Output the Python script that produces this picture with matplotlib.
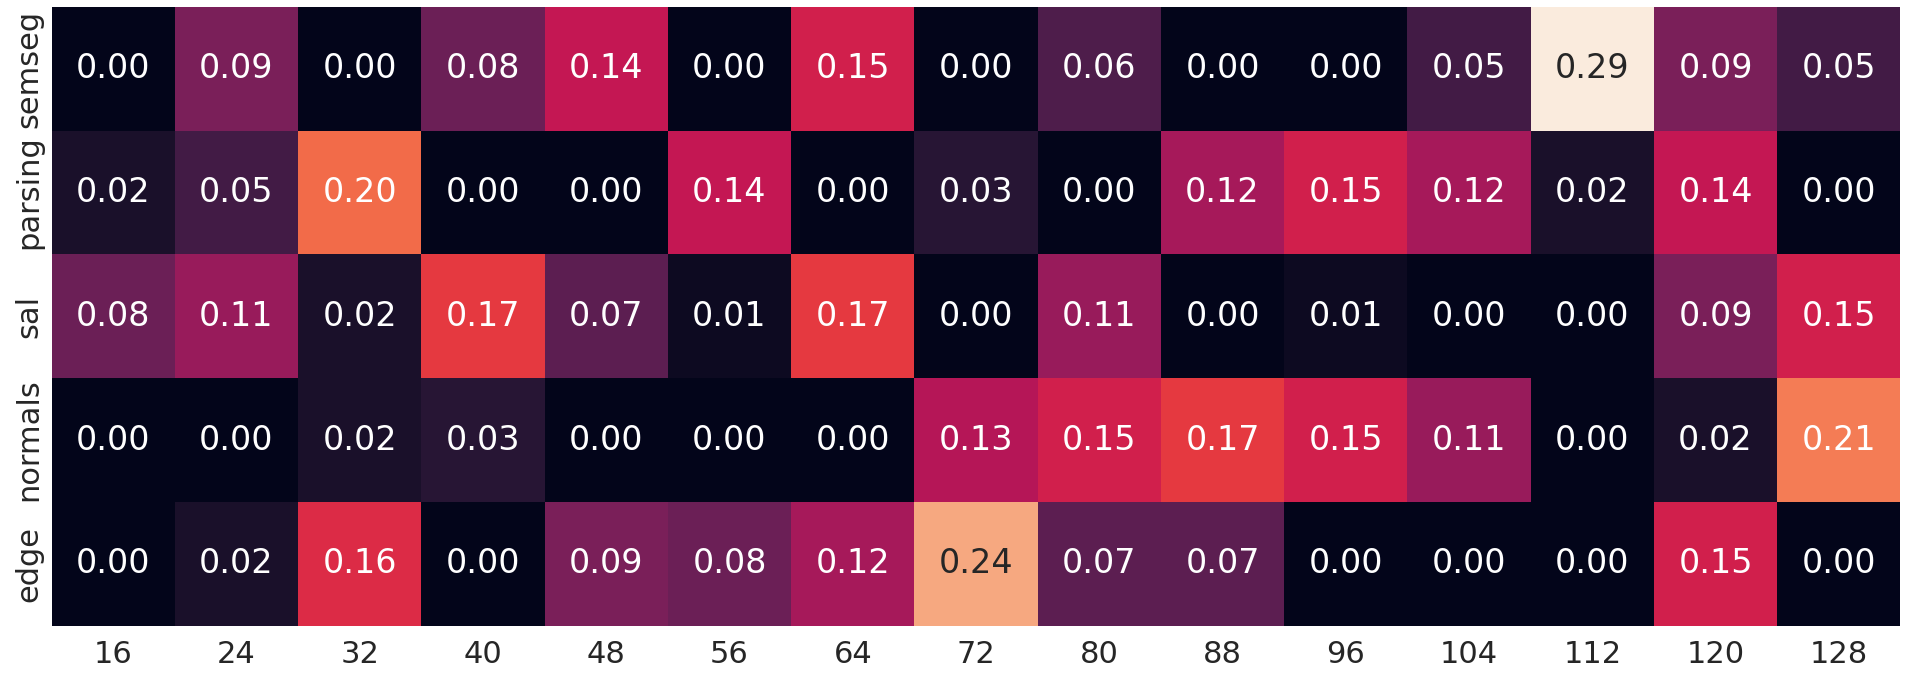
import numpy as np
import seaborn as sns
import matplotlib.pyplot as plt

tasks = ["semseg", "parsing", "sal", "normals", "edge"]
dims = [16, 24, 32, 40, 48, 56, 64, 72, 80, 88, 96, 104, 112, 120, 128]

semseg = [0.00, 0.09, 0.00, 0.08, 0.14, 0.00, 0.15, 0.00, 0.06, 0.00, 0.00, 0.05, 0.29, 0.09, 0.05]
parsing = [0.02, 0.05, 0.20, 0.00, 0.00, 0.14, 0.00, 0.03, 0.00, 0.12, 0.15, 0.12, 0.02, 0.14, 0.00]
sal = [0.08, 0.11, 0.02, 0.17, 0.07, 0.01, 0.17, 0.00, 0.11, 0.00, 0.01, 0.00, 0.00, 0.09, 0.15]
normals = [0.00, 0.00, 0.02, 0.03, 0.00, 0.00, 0.00, 0.13, 0.15, 0.17, 0.15, 0.11, 0.00, 0.02, 0.21]
edge = [0.00, 0.02, 0.16, 0.00, 0.09, 0.08, 0.12, 0.24, 0.07, 0.07, 0.00, 0.00, 0.00, 0.15, 0.00]

data = np.array([semseg, parsing, sal, normals, edge])

sns.set_theme(style="white")
fig = plt.figure(figsize=(19.1, 6.78), dpi=100)
ax = fig.add_axes([0.027, 0.077, 0.968, 0.913])
sns.heatmap(data, ax=ax, cmap="rocket", cbar=False, annot=True, fmt=".2f",
            annot_kws={"size": 24}, xticklabels=dims, yticklabels=tasks)
ax.tick_params(axis="both", labelsize=22, length=0, colors="#262626")
ax.tick_params(axis="x", pad=10)
ax.tick_params(axis="y", pad=6)
plt.setp(ax.get_yticklabels(), rotation=90, va="center")
fig.savefig("out.png", dpi=100)
